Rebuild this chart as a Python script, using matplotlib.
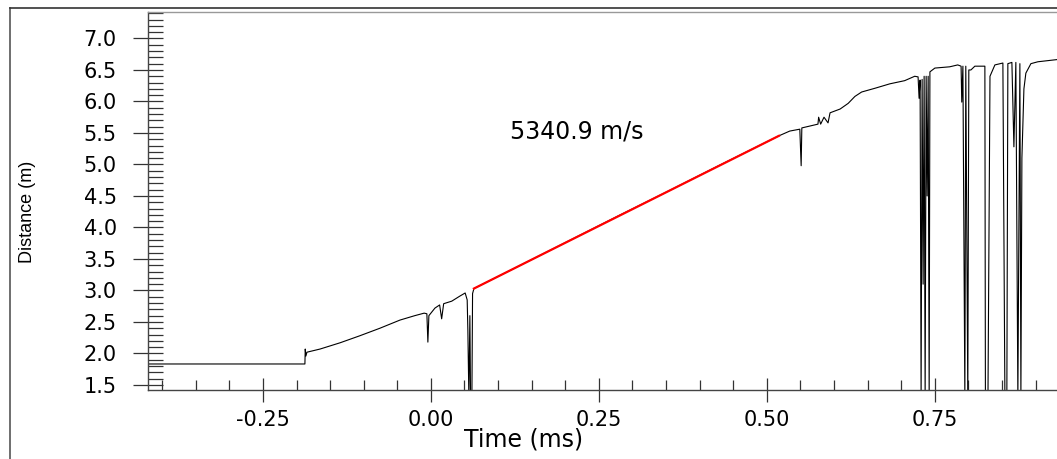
import numpy as np
import matplotlib
matplotlib.use("Agg")
import matplotlib.pyplot as plt
from matplotlib.ticker import MultipleLocator, FormatStrFormatter
from matplotlib.lines import Line2D

time_ms = [-0.421, -0.1875, -0.187, -0.186, -0.1845, -0.165, -0.135, -0.106, -0.076,
           -0.046, -0.024, -0.010, -0.006, -0.0045, -0.003, 0.006, 0.013, 0.016,
           0.019, 0.031, 0.043, 0.051, 0.054, 0.055, 0.0565, 0.058, 0.059, 0.061,
           0.062, 0.064,
           0.12, 0.20, 0.28, 0.35, 0.43, 0.518,
           0.534, 0.549, 0.551, 0.552, 0.564, 0.576, 0.577, 0.580, 0.585, 0.591,
           0.594, 0.609, 0.621, 0.631, 0.641, 0.661, 0.683, 0.705, 0.720, 0.725,
           0.7265, 0.728, 0.7295, 0.731, 0.7325, 0.734, 0.7355, 0.737, 0.7385,
           0.740, 0.7415, 0.7426, 0.750, 0.772, 0.784, 0.789, 0.790, 0.7917,
           0.7946, 0.7960, 0.7990, 0.8005, 0.8036, 0.8095, 0.8244, 0.8252, 0.8290,
           0.8320, 0.8393, 0.8512, 0.8542, 0.8571, 0.8586, 0.8646, 0.8676, 0.8705,
           0.8735, 0.8765, 0.8780, 0.8795, 0.8825, 0.8854, 0.8929, 0.9033, 0.9362]
distance_m = [1.833, 1.833, 2.07, 1.96, 2.02, 2.07, 2.17, 2.28, 2.40,
              2.53, 2.60, 2.64, 2.63, 2.18, 2.60, 2.72, 2.77, 2.55,
              2.79, 2.83, 2.91, 2.96, 2.85, 2.37, 1.30, 2.60, 1.30, 1.30,
              2.95, 3.03,
              3.33, 3.76, 4.19, 4.56, 4.99, 5.455,
              5.53, 5.56, 4.98, 5.58, 5.61, 5.64, 5.75, 5.64, 5.75, 5.66,
              5.82, 5.88, 5.97, 6.08, 6.15, 6.21, 6.28, 6.33, 6.40, 6.39,
              6.05, 6.34, 1.30, 6.35, 3.10, 6.40, 1.30, 6.40, 4.50,
              6.40, 1.30, 6.47, 6.53, 6.55, 6.58, 6.56, 5.99, 6.56,
              1.30, 6.56, 1.30, 6.50, 6.50, 6.56, 6.56, 1.30, 1.30,
              6.40, 6.58, 6.61, 1.30, 1.30, 6.60, 6.62, 5.28, 6.62,
              1.30, 6.60, 1.30, 5.10, 6.20, 6.45, 6.60, 6.63, 6.67]

# linear fit segment
fit_t = [0.064, 0.518]
fit_d = [3.03, 5.455]
velocity_label = "5340.9 m/s"

W, H = 1057, 459
fig = plt.figure(figsize=(W / 100, H / 100), dpi=100)
fig.patch.set_facecolor("white")

# outer frame lines
fig.add_artist(Line2D([10 / W, 10 / W], [0, 1 - 8 / H], transform=fig.transFigure,
                      color="#555555", lw=1.2))
fig.add_artist(Line2D([10 / W, 1], [1 - 8 / H, 1 - 8 / H], transform=fig.transFigure,
                      color="#333333", lw=1.2))

ax = fig.add_axes([148 / W, 69 / H, 912 / W, 378 / H])
ax.plot(time_ms, distance_m, color="black", lw=0.8)
ax.plot(fit_t, fit_d, color="#ff0000", lw=1.6)

ax.set_xlim(-0.421, 0.9362)
ax.set_ylim(1.42, 7.42)

ax.yaxis.set_major_locator(MultipleLocator(0.5))
ax.yaxis.set_minor_locator(MultipleLocator(0.1))
ax.xaxis.set_major_locator(MultipleLocator(0.25))
ax.xaxis.set_minor_locator(MultipleLocator(0.05))
ax.yaxis.set_major_formatter(FormatStrFormatter("%.1f"))
ax.xaxis.set_major_formatter(FormatStrFormatter("%.2f"))

ax.tick_params(axis="y", which="major", direction="inout", length=21, width=0.9,
               color="#333333", pad=12, labelsize=15)
ax.tick_params(axis="y", which="minor", direction="in", length=11, width=0.9,
               color="#333333")
ax.tick_params(axis="x", which="major", direction="inout", length=17, width=0.9,
               color="#333333", pad=6, labelsize=15)
ax.tick_params(axis="x", which="minor", direction="in", length=7.5, width=0.9,
               color="#333333")
for lab in ax.get_xticklabels() + ax.get_yticklabels():
    lab.set_family("DejaVu Sans")

for side in ["left", "bottom"]:
    ax.spines[side].set_color("#444444")
    ax.spines[side].set_linewidth(1.0)
ax.spines["top"].set_color("#999999")
ax.spines["top"].set_linewidth(1.0)
ax.spines["right"].set_visible(False)

ax.text(0.217, 5.53, velocity_label, ha="center", va="center",
        fontsize=17, family="DejaVu Sans")

ax.set_xlabel("Time (ms)", fontsize=17, family="DejaVu Sans")
ax.xaxis.set_label_coords((524 - 148) / 912, (390 - 439) / 378)
ax.xaxis.label.set_va("center")
ax.set_ylabel("Distance (m)", fontsize=13, family="Liberation Sans")
ax.yaxis.set_label_coords((28 - 148) / 912, (390 - 212) / 378)
ax.yaxis.label.set_va("center")

fig.savefig("out.png", dpi=100)
